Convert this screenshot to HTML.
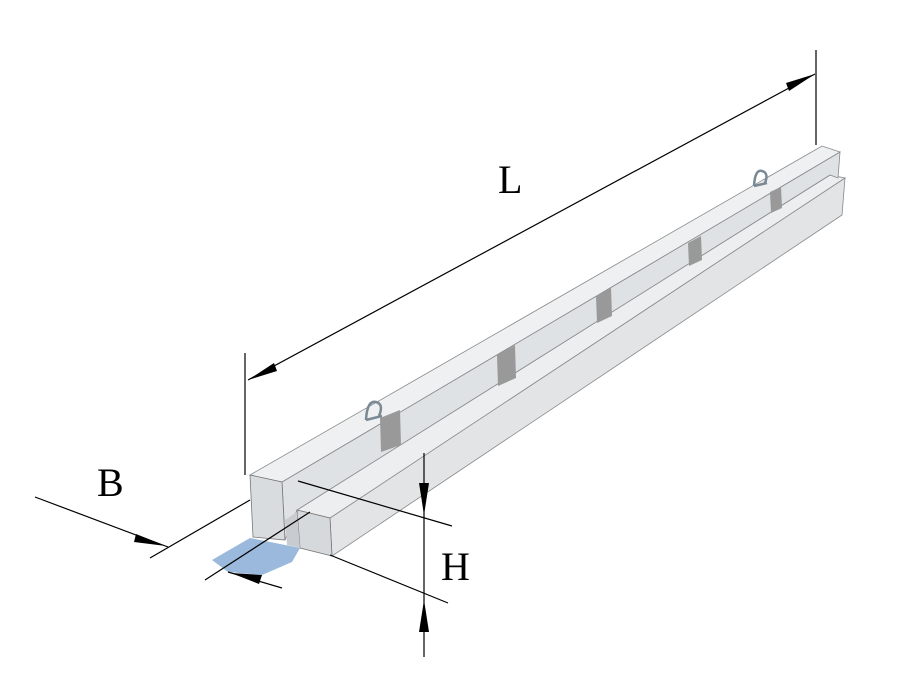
<!DOCTYPE html>
<html><head><style>html,body{margin:0;padding:0;background:#fff;}svg{display:block}</style></head>
<body>
<svg width="900" height="700" viewBox="0 0 900 700" xmlns="http://www.w3.org/2000/svg">
<!-- shadow -->
<polygon points="212,560 250,538 300,548 292,562 262,575 228,572" fill="#9ab9dc"/>
<!-- lower block side face -->
<polygon points="330,518 845,178 842,215 332,556" fill="#e2e4e6" stroke="#888" stroke-width="0.8"/>
<!-- lower ledge top -->
<polygon points="297,510 830,175 845,178 330,518" fill="#eceeef" stroke="#888" stroke-width="0.8"/>
<!-- upper block side face -->
<polygon points="282,482 840,152 838,178 830,175 297,510 285,540" fill="#dfe2e4" stroke="#888" stroke-width="0.8"/>
<!-- upper top face -->
<polygon points="250,475 822,146 840,152 282,482" fill="#eef0f1" stroke="#888" stroke-width="0.8"/>
<!-- upper front face -->
<polygon points="250,475 282,482 285,540 253,537" fill="#d9dcdf" stroke="#777" stroke-width="0.8"/>
<!-- lower front face -->
<polygon points="297,510 330,518 332,556 300,548" fill="#d6d9dc" stroke="#777" stroke-width="0.8"/>
<polygon points="285,520 297,512 300,548 287,545" fill="#c8ccd0"/>
<!-- grey straps -->
<g fill="#999">
<polygon points="380,418 400,410 401,445 381,452"/>
<polygon points="497,355 515,345 516,378 498,386"/>
<polygon points="596,296 611,288 612,316 597,323"/>
<polygon points="688,243 701,236 702,260 689,266"/>
<polygon points="770,192 781,187 782,208 771,213"/>
</g>
<!-- loops -->
<path d="M366,420 q1,-20 10,-18 q8,2 3,14 M366,420 l16,-4" fill="none" stroke="#7a8a95" stroke-width="2.5"/>
<path d="M754,186 q1,-17 8,-15 q7,2 3,12 M754,186 l13,-3" fill="none" stroke="#7a8a95" stroke-width="2.5"/>
<!-- dimension lines -->
<g stroke="#000" stroke-width="1.2" fill="none">
<line x1="245" y1="353" x2="245" y2="475"/>
<line x1="816" y1="50" x2="816" y2="145"/>
<line x1="248" y1="380" x2="815" y2="74"/>
<line x1="424" y1="453" x2="424" y2="657"/>
<line x1="298" y1="481" x2="452" y2="526"/>
<line x1="330" y1="555" x2="448" y2="603"/>
<line x1="35" y1="497" x2="168" y2="547"/>
<line x1="150" y1="558" x2="250" y2="500"/>
<line x1="205" y1="580" x2="310" y2="512"/>
<line x1="228" y1="572" x2="282" y2="588"/>
</g>
<g fill="#000">
<polygon points="248,380 274,363 277,371"/>
<polygon points="815,74 789,91 786,83"/>
<polygon points="424,515 419,483 429,483"/>
<polygon points="424,600 419,632 429,632"/>
<polygon points="166,546 136,534 134,542"/>
<polygon points="231,573 262,575 259,584"/>
</g>
<g font-family="Liberation Serif, serif" font-size="40" fill="#000">
<text x="498" y="193">L</text>
<text x="97" y="496">B</text>
<text x="441" y="580">H</text>
</g>
</svg>
</body></html>
